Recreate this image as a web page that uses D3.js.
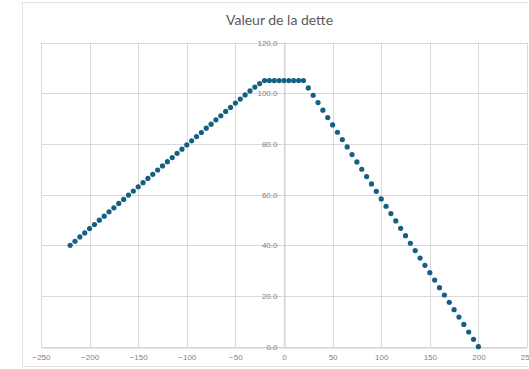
<!DOCTYPE html>
<html>
<head>
<meta charset="utf-8">
<script src="https://cdn.jsdelivr.net/npm/d3@7"></script>
<style>
  html, body { margin: 0; padding: 0; background: #fff; }
  svg { display: block; }
</style>
</head>
<body>
<svg id="chart" width="529" height="369"></svg>
<script>
// Debt value series: x positions and the matching values
const xValues = [
  -220, -215, -210, -205, -200, -195, -190, -185, -180, -175,
  -170, -165, -160, -155, -150, -145, -140, -135, -130, -125,
  -120, -115, -110, -105, -100, -95, -90, -85, -80, -75,
  -70, -65, -60, -55, -50, -45, -40, -35, -30, -25,
  -20, -15, -10, -5, 0, 5, 10, 15, 20,
  25, 30, 35, 40, 45, 50, 55, 60, 65, 70,
  75, 80, 85, 90, 95, 100, 105, 110, 115, 120,
  125, 130, 135, 140, 145, 150, 155, 160, 165, 170,
  175, 180, 185, 190, 195, 200
];
const debtValues = [
  40.0, 41.6, 43.3, 44.9, 46.6, 48.2, 49.9, 51.5, 53.2, 54.8,
  56.5, 58.1, 59.8, 61.4, 63.1, 64.7, 66.4, 68.0, 69.7, 71.3,
  73.0, 74.6, 76.3, 77.9, 79.6, 81.2, 82.9, 84.5, 86.2, 87.8,
  89.5, 91.1, 92.8, 94.4, 96.1, 97.7, 99.3, 100.9, 102.4, 103.8,
  105.0, 105.0, 105.0, 105.0, 105.0, 105.0, 105.0, 105.0, 105.0,
  102.1, 99.2, 96.3, 93.3, 90.4, 87.5, 84.6, 81.7, 78.8, 75.8,
  72.9, 70.0, 67.1, 64.2, 61.3, 58.3, 55.4, 52.5, 49.6, 46.7,
  43.8, 40.8, 37.9, 35.0, 32.1, 29.2, 26.3, 23.3, 20.4, 17.5,
  14.6, 11.7, 8.8, 5.8, 2.9, 0.0
];
const xTicks = [-250, -200, -150, -100, -50, 0, 50, 100, 150, 200, 250];
const yTicks = [0, 20, 40, 60, 80, 100, 120];
const chartTitle = "Valeur de la dette";

const svg = d3.select("#chart");
const plotLeft = 41, plotRight = 527, plotTop = 42.5, plotBottom = 346.7;

const x = d3.scaleLinear().domain([-250, 250]).range([plotLeft, plotRight]);
const y = d3.scaleLinear().domain([0, 120]).range([plotBottom, plotTop]);

// outer chart frame
svg.append("rect")
  .attr("x", 22.5).attr("y", 2.5)
  .attr("width", 540).attr("height", 364)
  .attr("fill", "#fff").attr("stroke", "#e3e3e3").attr("stroke-width", 1);

// title
svg.append("text")
  .attr("x", 279.5).attr("y", 25)
  .attr("text-anchor", "middle")
  .attr("font-family", "Lato, 'Open Sans', sans-serif")
  .attr("font-size", 14)
  .attr("fill", "#595959")
  .text(chartTitle);

// gridlines
const grid = svg.append("g").attr("stroke", "#d9d9d9").attr("stroke-width", 1);
grid.selectAll("line.v").data(xTicks).join("line").attr("class", "v")
  .attr("x1", d => Math.round(x(d)) + 0.5).attr("x2", d => Math.round(x(d)) + 0.5)
  .attr("y1", plotTop).attr("y2", plotBottom);
grid.selectAll("line.h").data(yTicks).join("line").attr("class", "h")
  .attr("x1", plotLeft).attr("x2", plotRight)
  .attr("y1", d => Math.round(y(d)) + 0.5).attr("y2", d => Math.round(y(d)) + 0.5);

// axes crossing at zero
const xAxis = d3.axisBottom(x).tickValues(xTicks).tickSize(0).tickPadding(7)
  .tickFormat(d3.format("d"));
const gx = svg.append("g")
  .attr("transform", `translate(0,${Math.round(y(0)) + 0.5})`)
  .call(xAxis);
gx.select(".domain").attr("stroke", "#cfcfcf");

const yAxis = d3.axisLeft(y).tickValues(yTicks).tickSize(0).tickPadding(7)
  .tickFormat(d3.format(".1f"));
const gy = svg.append("g")
  .attr("transform", `translate(${Math.round(x(0)) + 0.5},0)`)
  .call(yAxis);
gy.select(".domain").attr("stroke", "#cfcfcf");

svg.selectAll(".tick text")
  .attr("font-family", "'Liberation Sans', Arial, sans-serif")
  .attr("font-size", 8)
  .attr("fill", "#7f7f7f");

// data markers
const points = xValues.map((d, i) => ({ x: d, v: debtValues[i] }));
svg.append("g").selectAll("circle").data(points).join("circle")
  .attr("cx", d => x(d.x))
  .attr("cy", d => y(d.v))
  .attr("r", 2.6)
  .attr("fill", "#156082");
</script>
</body>
</html>
